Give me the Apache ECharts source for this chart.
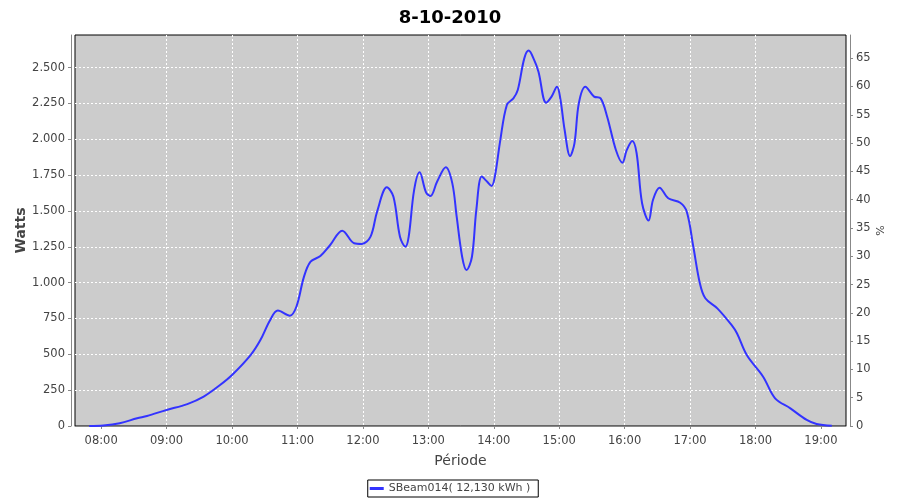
<!DOCTYPE html>
<html><head><meta charset="utf-8">
<script src="https://cdn.jsdelivr.net/npm/echarts@6/dist/echarts.min.js"></script>
<style>html,body{margin:0;padding:0;background:#fff}#c{width:900px;height:500px}</style>
</head><body><div id="c"></div>
<script>
const chartTitle = '8-10-2010';
const seriesName = 'SBeam014( 12,130 kWh )';
const times = ['07:49','08:02','08:17','08:33','08:42','09:00','09:19','09:34','09:49','10:00',
  '10:17','10:26','10:35','10:42','10:53','10:59','11:06','11:12','11:21','11:30',
  '11:41','11:52','11:59','12:07','12:13','12:22','12:28','12:34','12:39','12:42',
  '12:47','12:52','12:58','13:02','13:08','13:16','13:22','13:26','13:31','13:35',
  '13:40','13:44','13:49','13:54','13:58','14:01','14:06','14:12','14:18','14:22',
  '14:28','14:32','14:37','14:41','14:48','14:53','14:58','15:01','15:05','15:10',
  '15:14','15:18','15:24','15:32','15:38','15:44','15:52','15:58','16:02','16:07',
  '16:11','16:16','16:22','16:26','16:32','16:40','16:51','16:57','17:03','17:09',
  '17:14','17:25','17:38','17:43','17:52','18:07','18:18','18:32','18:47','18:56','19:10'];
const watts = [0,3,19,54,70,112,153,205,286,356,
  495,600,740,805,770,832,1042,1146,1186,1263,
  1363,1275,1270,1321,1495,1665,1600,1321,1251,1321,
  1647,1770,1628,1605,1704,1805,1693,1460,1181,1088,
  1181,1507,1740,1704,1675,1740,1995,2240,2286,2344,
  2565,2619,2554,2472,2256,2298,2367,2286,2065,1884,
  1972,2251,2367,2298,2286,2158,1926,1837,1926,1988,
  1903,1554,1433,1577,1663,1589,1558,1495,1251,996,
  891,821,705,647,495,344,193,123,42,14,2];
const xTickLabels = ['08:00','09:00','10:00','11:00','12:00','13:00','14:00','15:00','16:00','17:00','18:00','19:00'];
const xRange = ['07:36','19:23'];
const wattsRange = [0, 2728];
const wattsStep = 250;
const pctRange = [0, 69.1];
const pctStep = 5;

const toMin = s => { const p = s.split(':'); return (+p[0]) * 60 + (+p[1]); };
const pad = n => (n < 10 ? '0' : '') + n;
const fmtMin = v => pad(Math.floor(v / 60)) + ':' + pad(Math.round(v % 60));
const fmtThousands = v => String(Math.round(v)).replace(/\B(?=(\d{3})+(?!\d))/g, '.');

const xTicks = xTickLabels.map(toMin);
const data = times.map((t, i) => [toMin(t), watts[i]]);
const FONT = 'DejaVu Sans';
const GRAY = '#444444';

const chart = echarts.init(document.getElementById('c'), null, {renderer: 'canvas'});
chart.setOption({
  animation: false,
  backgroundColor: '#ffffff',
  textStyle: {fontFamily: FONT},
  title: {
    text: chartTitle, left: 'center', top: 4,
    textStyle: {fontFamily: FONT, fontSize: 18, fontWeight: 'bold', color: '#000'}
  },
  legend: {
    data: [seriesName],
    bottom: 3, left: 'center',
    icon: 'rect', itemWidth: 14, itemHeight: 3, itemGap: 4,
    borderColor: '#000', borderWidth: 1, padding: [3, 8, 3, 2],
    textStyle: {fontFamily: FONT, fontSize: 11, color: GRAY}
  },
  grid: {
    left: 75, right: 54, top: 35, bottom: 74,
    show: true, backgroundColor: '#cccccc', borderColor: '#000', borderWidth: 1
  },
  xAxis: {
    type: 'value',
    min: toMin(xRange[0]), max: toMin(xRange[1]),
    offset: 4,
    name: 'Période', nameLocation: 'middle', nameGap: 24,
    nameTextStyle: {fontFamily: FONT, fontSize: 14, color: GRAY},
    axisLine: {show: true, lineStyle: {color: '#888', width: 1}},
    axisTick: {show: true, length: 3, customValues: xTicks, lineStyle: {color: '#888'}},
    axisLabel: {customValues: xTicks, margin: 5, fontSize: 11.5, fontFamily: FONT, color: GRAY, formatter: fmtMin},
    splitLine: {show: true, showMinLine: false, showMaxLine: false, lineStyle: {color: '#ffffff', type: [2, 2], width: 1}}
  },
  yAxis: [{
    type: 'value', position: 'left',
    min: wattsRange[0], max: wattsRange[1], interval: wattsStep,
    offset: 4,
    name: 'Watts', nameLocation: 'middle', nameGap: 43, nameRotate: 90, nameMoveOverlap: false,
    nameTextStyle: {fontFamily: FONT, fontSize: 14, fontWeight: 'bold', color: GRAY},
    axisLine: {show: true, lineStyle: {color: '#888', width: 1}},
    axisTick: {show: true, length: 3, lineStyle: {color: '#888'}},
    axisLabel: {margin: 6, fontSize: 11.5, fontFamily: FONT, color: GRAY, formatter: fmtThousands, showMaxLabel: false},
    splitLine: {show: true, showMinLine: false, showMaxLine: false, lineStyle: {color: '#ffffff', type: [2, 2], width: 1}}
  }, {
    type: 'value', position: 'right',
    min: pctRange[0], max: pctRange[1], interval: pctStep,
    offset: 4,
    name: '%', nameLocation: 'middle', nameGap: 26, nameRotate: 90, nameMoveOverlap: false,
    nameTextStyle: {fontFamily: FONT, fontSize: 11, color: GRAY},
    axisLine: {show: true, lineStyle: {color: '#888', width: 1}},
    axisTick: {show: true, length: 3, lineStyle: {color: '#888'}},
    axisLabel: {margin: 6, fontSize: 11.5, fontFamily: FONT, color: GRAY, showMaxLabel: false},
    splitLine: {show: false}
  }],
  series: [{
    name: seriesName, type: 'line', yAxisIndex: 0,
    data: data, showSymbol: false, smooth: 0.35,
    lineStyle: {color: '#3333ff', width: 2}, itemStyle: {color: '#3333ff'}
  }]
});
</script>
</body></html>
